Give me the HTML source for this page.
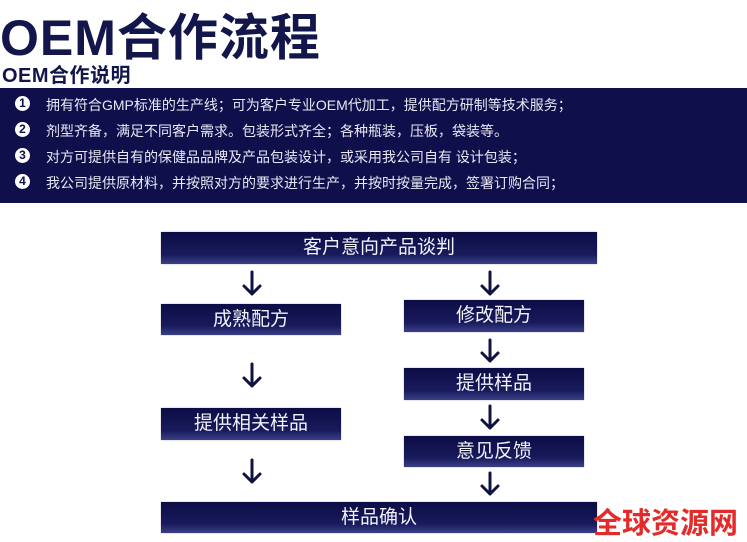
<!DOCTYPE html>
<html><head><meta charset="utf-8"><style>
body{margin:0;width:747px;height:542px;background:#fff;position:relative;overflow:hidden;font-family:"Liberation Sans","Noto Sans CJK SC",sans-serif}
.t1{position:absolute;left:0;top:-2px;font-size:50px;font-weight:bold;color:#12164a;letter-spacing:1px;white-space:nowrap}
.t2{position:absolute;left:2px;top:59px;font-size:20px;font-weight:bold;color:#12164a;white-space:nowrap;letter-spacing:0.5px}
.panel{position:absolute;left:0;top:88px;width:747px;height:115px;background:#0f0f4c}
.ln{position:absolute;left:46px;font-size:14px;color:#e8e8f4;white-space:nowrap}
.c{position:absolute;left:15px;width:15px;height:15px;border-radius:50%;background:#fff;color:#0f0f4c;font-size:12px;font-weight:bold;line-height:15px;text-align:center}
.b{position:absolute;background:linear-gradient(#0c0c45 0%,#181a5c 70%,#3a3f86 100%);color:#f2f2f8;font-size:19px;text-align:center;box-shadow:0 0 1px #889}
.logo{position:absolute;left:593px;top:500px;font-size:29px;font-weight:bold;color:#e52a2a;letter-spacing:0px;white-space:nowrap;font-family:"Noto Sans CJK SC",sans-serif}
</style></head><body>
<div class="t1">OEM合作流程</div>
<div class="t2">OEM合作说明</div>
<div class="panel"></div>
<div class="c" style="top:96px">1</div><div class="ln" style="top:95px">拥有符合GMP标准的生产线；可为客户专业OEM代加工，提供配方研制等技术服务；</div>
<div class="c" style="top:122px">2</div><div class="ln" style="top:121px">剂型齐备，满足不同客户需求。包装形式齐全；各种瓶装，压板，袋装等。</div>
<div class="c" style="top:148px">3</div><div class="ln" style="top:147px">对方可提供自有的保健品品牌及产品包装设计，或采用我公司自有 设计包装；</div>
<div class="c" style="top:174px">4</div><div class="ln" style="top:173px">我公司提供原材料，并按照对方的要求进行生产，并按时按量完成，签署订购合同；</div>

<div class="b" style="left:161px;top:232px;width:436px;height:32px;line-height:32px">客户意向产品谈判</div>
<div class="b" style="left:161px;top:304px;width:180px;height:31px;line-height:31px">成熟配方</div>
<div class="b" style="left:404px;top:300px;width:180px;height:32px;line-height:32px">修改配方</div>
<div class="b" style="left:404px;top:368px;width:180px;height:32px;line-height:32px">提供样品</div>
<div class="b" style="left:161px;top:408px;width:180px;height:32px;line-height:32px">提供相关样品</div>
<div class="b" style="left:404px;top:436px;width:180px;height:31px;line-height:31px">意见反馈</div>
<div class="b" style="left:161px;top:502px;width:436px;height:31px;line-height:31px">样品确认</div>

<svg style="position:absolute;left:0;top:0" width="747" height="542" fill="none" stroke="#0e1340" stroke-width="3" stroke-linecap="round" stroke-linejoin="round">
<g><path d="M252 272v22M244 286l8 8 8-8"/></g>
<g><path d="M490 272v22M482 286l8 8 8-8"/></g>
<g><path d="M490 340v21M482 353l8 8 8-8"/></g>
<g><path d="M252 364v22M244 378l8 8 8-8"/></g>
<g><path d="M490 406v22M482 420l8 8 8-8"/></g>
<g><path d="M252 460v22M244 474l8 8 8-8"/></g>
<g><path d="M490 473v21M482 486l8 8 8-8"/></g>
</svg>
<div class="logo">全球资源网</div>
</body></html>
